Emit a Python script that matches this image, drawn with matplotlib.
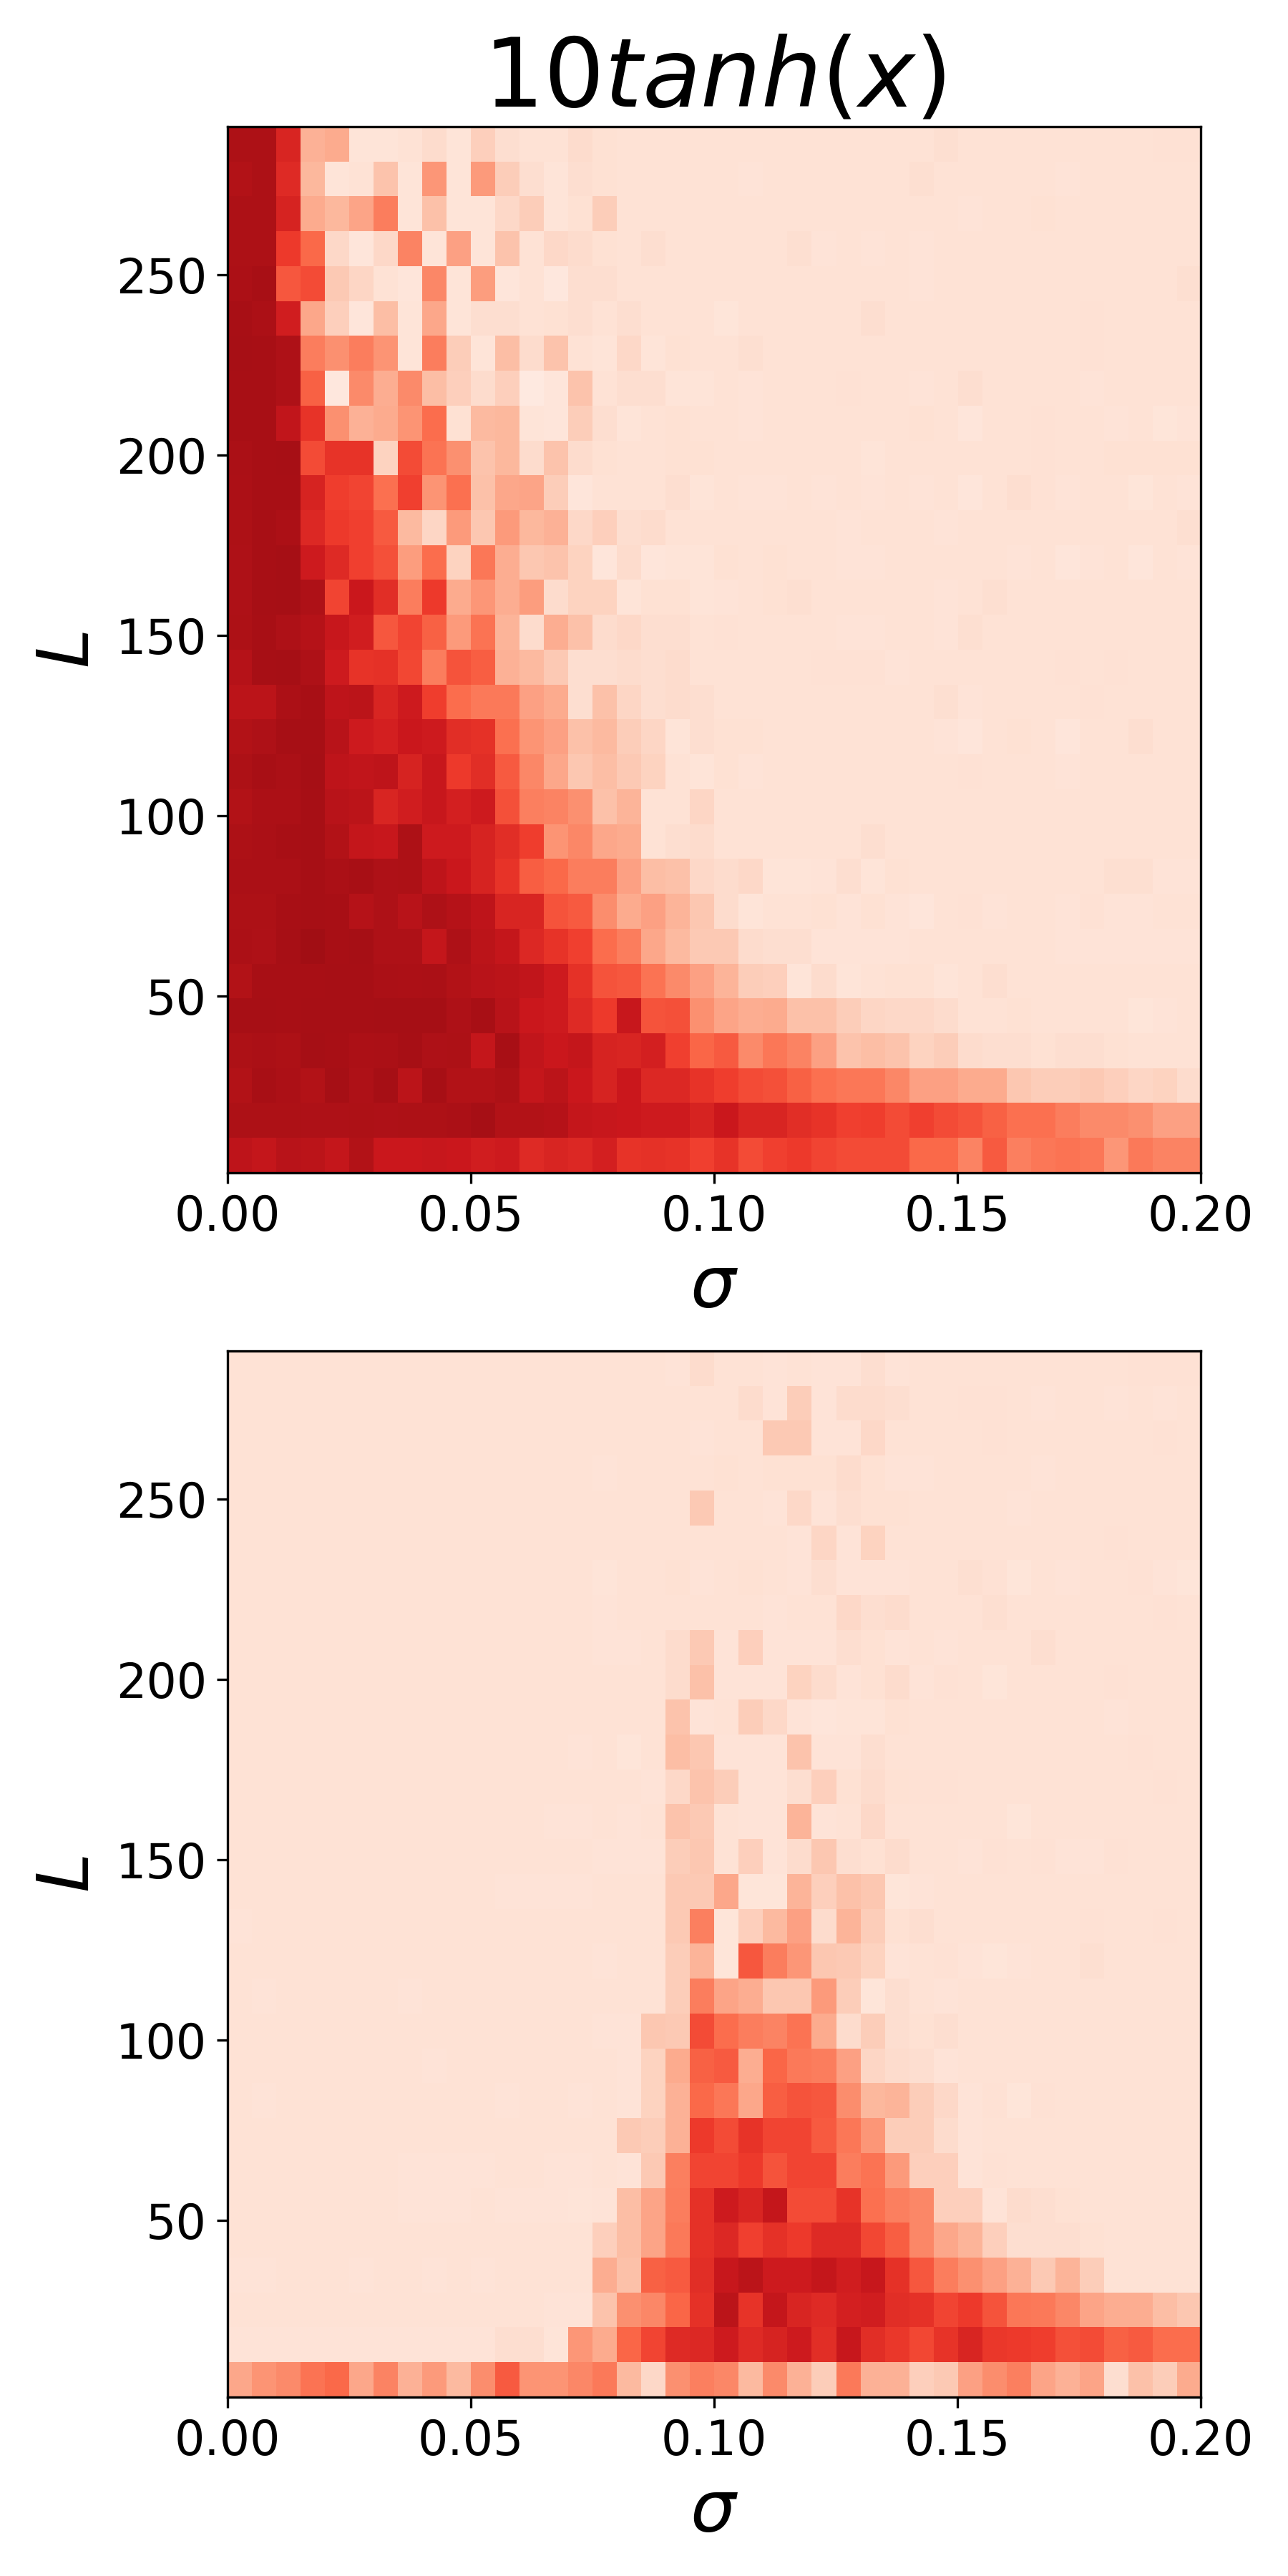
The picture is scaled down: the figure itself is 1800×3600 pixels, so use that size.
import numpy as np
import matplotlib
matplotlib.use("Agg")
import matplotlib.pyplot as plt

sigma_range = [0.0, 0.2]
L_range = [1, 291]
x_ticks = [0.00, 0.05, 0.10, 0.15, 0.20]
y_ticks = [50, 100, 150, 200, 250]
title_text = r"$10tanh(x)$"

# values in percent of the colour scale, top row first
top_left = [
[84.5,84.5,70,28,30,10,10,11,14,10,18,13,11,11,14,12,11,11,11,11],
[83,84.5,68,26,10,11,22,10,36,10,35,19,13,10,13,12,11,11,11,11],
[84.5,84.5,71,30,26,32,44,10,23,10,10,15,19,10,12,19,11,11,11,11],
[84.5,84.5,63,50,15,9,15,42,10,33,10,22,11,15,14,12,11,13,11,11],
[85,86,55,58,20,16,11,9,41,10,34,9,11,8,13,13,11,11,11,11],
[86,85,73,31,18,9,24,10,31,10,13,13,11,12,13,11,13,11,11,11],
[86.5,86,84,44,38,44,37,10,44,19,10,24,14,22,11,10,15,10,12,11],
[86,86,84,52,8,40,29,40,24,18,14,18,7,9,22,11,13,13,10,10],
[86,86,78,65,38,28,30,37,49,12,25,26,10,9,19,13,10,11,12,11],
[85.5,86,86.5,58,65,65,17,58,47,38,22,26,14,22,14,12,11,11,12,12],
[85,86,86,71,62,60,48,61,37,48,23,31,32,19,9,11,11,11,13,10],
[84.5,86,85,69,63,61,54,25,16,35,21,35,26,28,15,18,13,14,11,11],
[84,86,87,74,68,61,57,34,49,17,46,29,21,22,17,9,14,9,10,10],
[84,86.5,87,84,60,75,67,44,63,30,36,29,34,14,17,17,10,12,12,10],
[84.5,86,84,82,76,73,55,60,52,35,47,27,14,29,23,14,15,13,13,11],
[82,86.5,87,84,74,65,66,59,44,56,53,28,25,20,13,13,14,13,14,11],
[80,80,85,86,79,80,70,74,62,49,45,45,33,30,13,23,16,13,14,13],
[83,84,86.5,86.5,81,74,72,75,74,67,66,48,37,33,23,25,19,16,10,13],
[84.5,86,85.5,87,79,78,79,71,76,63,67,54,41,31,21,24,20,17,11,10],
[83,85,85,86.5,81,80,70,73,76,72,74,57,43,42,38,23,27,11,11,16],
[84.5,85.5,86,86.5,83,77,76,84.5,74,74,71,67,62,37,41,31,30,11,13,14],
[85.5,85.5,85.5,86.5,85.5,86,84,84.5,79,75,71,65,53,50,44,44,33,24,23,15],
[84.5,84.5,86,86.5,86,82,84,81,84,82,79,70,70,56,54,39,30,33,27,21],
[85,84,86.5,88,86,87,84,84,77,84,80,77,69,65,61,49,44,31,25,20],
[83,86,86,86,86.5,86.5,85.5,85,85.5,83,81,80,78,74,66,56,55,47,40,33],
[86.5,86.5,86,86.5,86.5,86.5,87,87,87,84,86,81,75,74,68,63,76,56,57,38],
[84.5,85.5,84.5,87,86,85,85.5,86.5,84,84.5,77,86,78,75,77,71,70,72,61,51],
[83,86,85,83,87,84,87,80,86.5,83,83,84.5,77,80,75,71,75,69,69,65],
[84.5,84.5,84.5,84,84,84.5,84,84.5,84.5,85.5,87,83,83,82,77,76,75,74,74,71],
[79,77,81,80,77,83,75,75,76,75,73,74,68,70,69,72,65,66,65,61],
]
top_right = [
[11,11,11,11,11,11,11,11,11,12.5,11,11,11,11,11,11,11,11,11.5,11.5],
[11,10.5,11,11,11,11,11,11,12.5,11,11,11,11,11,10.5,11,11,11,11,11],
[11,11,11,11,11,11,11,11,11,11,10.5,11,11,12,11,11,11,11,11,11],
[11,11,11,12.5,10.5,11,10.5,11,10.5,11,11,11,11,11,11,11,11,11,11,11],
[11,11,11,11,11,11,11,11,10.5,11,11,11,11,11,11,11,11,11,11,12.5],
[9.5,11,11,11,11,11,13,11,11,11,11,11,11,11,11,11.5,11,11,11,11],
[11,12.5,11,11,11,11,11,11,11,11,11,11,11,11,11,11.5,11,11,11,11],
[11,10.5,11,11,11,11.5,11,11,10.5,11,13,11,11,11,11,10.5,11,11,11,11],
[11,10.5,11,11,11,11,11,11,12,11,9,11,11,11.5,11,11,10.5,11,9.5,10.5],
[11,11,11,11,11,11,10,11,11,11,11,11,11,11.5,11,11,12,12,12,12],
[11,10.5,10.5,11,10.5,11,10.5,11,10.5,11,9,11,13,11.5,10.5,11,11,9.5,11,10.5],
[11,11,11,11,11,10.5,11,11,11,10.5,11,11,11,11,11,11,11,11,11,12.5],
[12,11,12,11,11,10.5,10.5,11,11,11,11,11,10.5,11,9,10.5,11,9,11,10.5],
[10.5,11,12,12.5,11,11,11,11,11,10.5,11,12.5,11,11,11,11,11,11,11,11],
[11.5,11,11,11,11,10.5,10.5,11,11,10.5,12.5,11,11,11,11,11,11,11,11,11],
[11,11,11,11,11.5,11.5,11.5,10.5,11,11,11,11,11,11,11.5,11,11.5,11,11,11],
[11,11,11,11,11,11,11,11,11,12.5,10.5,11,11,11,11,11.5,11,11,11,11],
[12,12,11,11,11,11,11,11,11,10.5,9,11,12,11,9,11,11,13,11,11],
[12,10.5,11,11,11,11,11,11,11,11,11.5,11,11,11,10.5,11,11,11,11,11],
[11,11,11,11,11,11,11,11,11,11,11,11,11,11,11,11,11,11,11,11],
[11,11,11,11,11,11,13,11,11,11,11,11,11,11,11,11,11,11,11,11],
[14,15,10,10,10.5,13,10,12,11,11,11,11,11,11,11,11,12.5,12.5,10.5,10.5],
[14,10,11,11,12,10.5,12,10.5,9,11,11.5,10.5,11,11,10.5,11.5,10.5,10.5,11,11],
[20,14,13,13,10.5,10.5,10.5,10.5,11,11,11,11,11,11,10.5,10.5,10.5,10.5,10.5,10.5],
[27,19,18,10,14,10,11,12,12,10,11,13,11,11,11,11,11,11,11,11],
[32,29,30,23,23,19,16,15,15,14,11,11,12,11,11,11,11,9.5,10.5,11],
[54,40,46,42,33,22,24,22,17,19,14,13,13,12,13,13,12,11,11,11],
[62,58,57,52,48,46,46,41,33,33,30,30,21,19,19,20,18,16,17,14],
[75,70,70,67,65,61,62,58,61,58,56,52,48,48,44,40,40,38,33,33],
[65,58,61,63,60,58,58,58,50,50,42,54,43,46,47,46,36,45,42,42],
]
bottom_left = [
[11,11,11,11,11,11,11,11,11,11,11,11,11,11,11,11],
[11,11,11,11,11,11,11,11,11,11,11,11,11,11,11,11],
[11,11,11,11,11,11,11,11,11,11,11,11,11,11,11,11],
[11,11,11,11,11,11,11,11,11,11,11,11,11,11,11,10.5],
[11,11,11,11,11,11,11,11,11,11,11,11,11,11,11,11],
[11,11,11,11,11,11,11,11,11,11,11,11,11,11,11,11],
[11,11,11,11,11,11,11,11,11,11,11,11,11,11,11,10],
[11,11,11,11,11,11,11,11,11,11,11,11,11,11,11,10.5],
[11,11,11,11,11,11,11,11,11,11,11,11,11,11,11,10.5],
[11,11,11,11,11,11,11,11,11,11,11,11,11,11,11,11],
[11,11,11,11,11,11,11,11,11,11,11,11,11,11,11,11],
[11,11,11,11,11,11,11,11,11,11,11,11,11,11,10.5,11],
[11,11,11,11,11,11,11,11,11,11,11,11,11,11,11,11],
[11,11,11,11,11,11,11,11,11,11,11,11,11,10.5,10.5,11],
[11,11,11,11,11,11,11,11,11,11,11,11,11,11,11,10.5],
[11,11,11,11,11,11,11,11,11,11,11,10.5,10.5,10.5,10.5,11],
[10.5,11,11,11,11,11,11,11,11,11,11,11,11,11,11,11],
[11,11,11,11,11,11,11,11,11,11,11,11,11,11,11,10.5],
[11,10.5,11,11,11,11,11,10.5,11,11,11,11,11,11,11,11],
[11,11,11,11,11,11,11,11,11,11,11,11,11,11,11,10.5],
[11,11,11,11,11,11,11,11,10.5,11,11,11,11,11,11,11],
[11,10.5,11,11,11,11,11,11,11,11,11,10.5,11,11,10.5,11],
[11,11,11,11,11,11,11,11,11,11,11,11,11,11,11,11],
[11,11,11,11,11,11,11,10.5,10.5,10.5,10.5,11,11,10.5,10.5,11],
[11,11,11,11,11,11,11,10.5,10.5,10.5,11,10.5,10.5,10.5,10,10.5],
[11,11,11,11,11,11,11,11,11,11,11,11,11,11,11,18],
[10.5,10.5,11,11,11,10.5,11,11,10.5,11,10.5,11,11,11,11,29],
[11,11,11,11,11,11,11,11,11,11,11,11,11,10.5,10.5,22],
[10.5,10.5,10.5,10.5,10.5,10.5,10.5,10.5,10.5,10.5,10.5,13,13,10,36,30],
[31,37,40,47,50,31,42,28,35,25,39,54,37,37,41,45],
]
bottom_right = [
[11,11,10.5,14,11,11,10.5,11,10.5,10.5,13,10.5,11,11,11,11,11,11,11,11,11,11.5,11.5,11.5],
[11,11,11,11,11,14,10.5,19,10.5,14,14,13,11,11,11.5,11.5,11,10.5,11,11,10.5,11,10.5,11],
[11,11,11,10.5,11,11,20,20,10.5,10.5,15,11,11,11,11,11.5,11,11,11,11,11,11,11.5,11],
[11,11,11,11,12,11,12,12,12,14,12,10.5,10.5,11,11,11,11,10.5,11,11,11,11,11,11],
[11,11,11,20,11,11,10.5,15,10.5,13,12,12,11,11,11,11,10.5,11,11,11,11,11,11,11],
[11,11,11,11,11,11,11,10.5,16,10.5,17,11,11,11,11,11,11,11,11,11,11.5,11,11,11],
[11,11,12,10.5,11,12,11,10.5,13,10.5,10.5,10.5,11,11,12.5,11.5,9.5,11,10.5,11,11,11.5,10.5,9.5],
[11,11,11,11,11,11,10.5,11,11,15,13,14,11,11,11,12.5,11,11,11,11,11,11,11.5,11],
[10.5,11,14,20,10.5,18,10.5,10.5,10.5,13,12,10.5,11,10.5,11,11,11,13,11,11,11,11,11,11],
[11,11,14,23,10.5,10.5,10.5,17,14,10.5,12,14,10.5,11.5,11,9.5,11,11,11,11,11.5,11,11,11],
[11,11,22,10.5,11,19,15,10.5,9,10,10,12,11,11,11,11,11,11,11,11,10.5,11,11,11],
[9.5,11,24,21,10.5,10.5,10.5,22,10.5,10.5,13,11,11,11,11,11,11,11,11,11,11,11.5,11,11],
[11,10.5,15,22,19,10.5,10.5,13,18,12,14,12,11.5,11.5,11,11,11,11,11,11,11,11,11.5,11],
[10.5,11,22,20,11,10.5,10.5,27,10.5,11,15,11,11,11,11,11,9.5,11,11,11,11,11,11,11],
[10.5,10.5,19,21,11,18,10.5,14,21,13,12,14,11,11,10.5,11.5,11,11.5,10.5,10.5,11.5,11,11,11],
[11,11,20,20,31,9.5,9.5,27,18,23,21,9.5,10.5,11,11,11,11,11,11,11,11,11,11,11],
[11,11,20,43,9.5,18,25,33,14,27,19,12,13,11,11,11,11,11,11,11.5,11,11,11.5,11],
[11,11,19,27,9.5,55,44,36,21,20,17,10.5,11,11.5,10.5,9.5,10.5,11,11,12.5,11,11,11,11],
[11,11,19,44,32,29,21,21,35,19,9.5,13,11,10.5,11,11,11,11,11,11,11,11,11,11],
[10.5,21,20,58,49,44,42,47,30,14,19,13,12,13,11,11,11,11,11,11,11,11,11,11],
[10.5,17,30,52,54,29,51,45,44,33,16,14,13,10.5,11,11,11,11,11,11,11,11,11,11],
[10.5,17,28,50,46,31,53,56,55,39,26,27,19,15,10.5,11.5,9.5,11.5,11,11,11,11,11,11],
[20,19,28,63,58,65,60,60,54,46,36,19,19,14,10.5,11,11,11,11,11,11,11,11,11],
[10.5,20,43,60,60,63,56,60,60,44,47,35,18,18,10.5,11.5,11,11,11,11,11,11,11,11],
[24,32,44,66,74,70,77,58,58,65,48,43,41,18,18,10.5,14,13,12,11,11,11,11,11],
[24,32,45,66,69,61,66,63,68,68,59,53,41,31,27,18,13,13,13,12,11,11,11,11],
[23,52,54,67,76,80,74,74,77,73,76,66,55,44,38,33,28,20,27,19,11,11,11,11],
[38,41,51,66,80,65,77,70,68,72,73,67,66,60,63,56,46,45,41,32,29,29,24,21],
[51,60,68,69,74,68,71,74,67,76,67,64,59,65,70,64,63,62,57,58,52,54,49,49],
[25,15,38,43,41,25,40,28,19,45,28,28,18,20,33,39,43,32,28,32,13,23,19,30],
]

top_values = np.hstack([np.array(top_left), np.array(top_right)]) / 100.0
bottom_values = np.hstack([np.array(bottom_left), np.array(bottom_right)]) / 100.0

W, H = 1800, 3600
fig = plt.figure(figsize=(W / 300, H / 300), dpi=300)
left, right = 318.3 / W, 1678.3 / W
ax1 = fig.add_axes([left, 1 - 1639 / H, right - left, 1462 / H])
ax2 = fig.add_axes([left, 1 - 3350 / H, right - left, 1462 / H])

for ax, vals in ((ax1, top_values), (ax2, bottom_values)):
    ax.imshow(vals, cmap="Reds", vmin=0, vmax=1, aspect="auto",
              interpolation="nearest",
              extent=[sigma_range[0], sigma_range[1], L_range[0], L_range[1]])
    ax.set_xticks(x_ticks)
    ax.set_xticklabels([f"{t:.2f}" for t in x_ticks])
    ax.set_yticks(y_ticks)
    ax.tick_params(labelsize=16)
    ax.set_xlabel(r"$\sigma$", fontsize=24)
    ax.set_ylabel(r"$L$", fontsize=24)

ax1.set_title(title_text, fontsize=32)
fig.savefig("out.png", dpi=300)
